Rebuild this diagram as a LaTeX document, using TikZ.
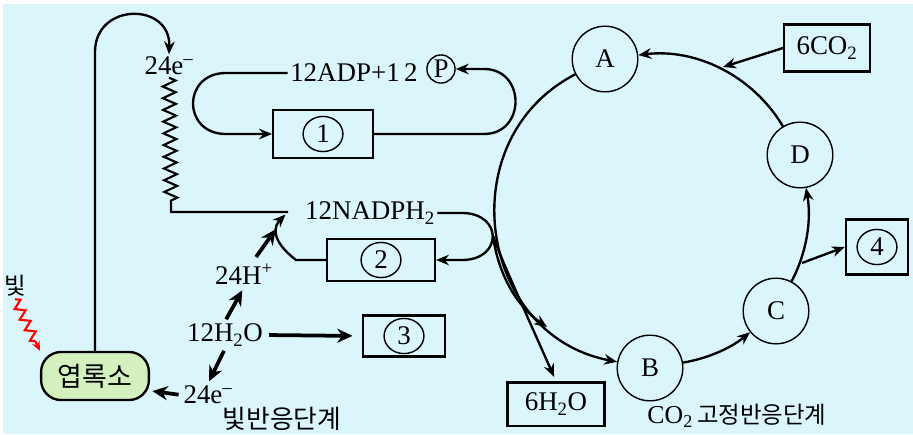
\documentclass[tikz,border=0pt]{standalone}
\usepackage{fontspec}
\setmainfont{Liberation Serif}
\newfontfamily\kr{Noto Sans CJK KR}
\usetikzlibrary{arrows.meta,decorations.pathmorphing,shapes.geometric}

\definecolor{bgcyan}{RGB}{219,246,250}
\definecolor{leafgreen}{RGB}{211,240,190}
\newcommand\txt{\fontsize{23}{26}\selectfont}
\newcommand\krtxt[1]{\fontsize{#1}{#1}\kr\selectfont}

\tikzset{
  every node/.style={font=\txt,inner sep=2pt},
  stage/.style={circle,draw,line width=1.2pt,fill=bgcyan,minimum size=56pt,inner sep=0pt},
  box/.style={draw,line width=2pt,inner sep=0pt},
  num/.style={ellipse,draw,line width=1.2pt,minimum width=34pt,minimum height=30pt,inner sep=0pt},
  flow/.style={line width=2pt,-{Stealth[length=11pt,width=9pt]}},
  bigflow/.style={line width=3.2pt,-{Stealth[length=13pt,width=12pt]}},
  cyc/.style={line width=2pt,-{Stealth[length=11pt,width=9pt]}},
}

\begin{document}
\begin{tikzpicture}[x=0.03cm,y=-0.03cm]
  \useasboundingbox (0,0) rectangle (913,434);
  \fill[bgcyan] (3,4) rectangle (913,434);

  \node[stage] (A) at (605,59) {A};
  \node[stage] (B) at (650,368) {B};
  \node[stage] (C) at (776,311) {C};
  \node[stage] (D) at (800,155) {D};
  \draw[cyc] (A) to[bend right=71,looseness=1.25] (B);
  \draw[cyc] (B) to[bend right=15,looseness=0.87] (C);
  \draw[cyc] (C) to[bend right=19,looseness=0.88] (D);
  \draw[cyc] (D) to[bend right=33,looseness=0.93] (A);

  \node[box,minimum width=73pt,minimum height=40pt] (co2) at (827,48) {6CO\textsubscript{2}};
  \coordinate (co2in) at (723,67);
  \draw[flow] (co2.west) -- (co2in);
  \node[box,minimum width=53pt,minimum height=47pt] (b4) at (877,247) {};
  \node[num] (n4) at (b4) {4};
  \coordinate (fork) at (802,263);
  \draw[flow] (fork) -- (b4.west);

  \node[box,minimum width=85pt,minimum height=41pt] (b1) at (323,134) {};
  \node[num] (n1) at (b1) {1};
  \node (adp) at (354,73) {12ADP+1\,2};
  \node[circle,draw,line width=1.2pt,minimum size=24pt,inner sep=0pt] (pc) at (441,69) {P};
  \draw[flow] (adp.west) -- (226,73) .. controls (182,73) and (182,134) .. (226,134) -- (b1.west);
  \draw[flow] (b1.east) -- (484,134) .. controls (526,134) and (526,69) .. (484,69) -- (pc.east);

  \node (nadph) at (370,213) {12NADPH\textsubscript{2}};
  \node[box,minimum width=92pt,minimum height=36pt] (b2) at (381,260) {};
  \node[num] (n2) at (b2) {2};
  \draw[flow] (nadph.east) -- (462,213) .. controls (503,213) and (503,260) .. (462,260) -- (b2.east);
  \coordinate (turn) at (493,236);
  \coordinate (nadin) at (547,327);
  \draw[flow] (turn) .. controls (498,272) and (515,305) .. (nadin);
  \node[box,minimum width=83pt,minimum height=37pt] (h2o) at (556,404) {6H\textsubscript{2}O};
  \draw[flow,shorten >=4pt] (turn) .. controls (503,262) .. (h2o.north);

  \coordinate (meet) at (288,212);
  \node (e24top) at (169,66) {24e\textsuperscript{--}};
  \coordinate (zz) at (171,206);
  \draw[line width=1.8pt] (e24top.south) decorate[decoration={zigzag,amplitude=5.5pt,segment length=10pt}] {-- (zz)} -- (zz |- meet) -- (meet);
  \draw[flow,shorten >=3pt] (b2.west) -- (296,260) .. controls (270,240) and (274,226) .. (meet);

  \node (hplus) at (244,274) {24H\textsuperscript{+}};
  \node (water) at (225,335) {12H\textsubscript{2}O};
  \node[box,minimum width=70pt,minimum height=35pt] (b3) at (404,336) {};
  \node[num] (n3) at (b3) {3};
  \node (e24bot) at (208,395) {24e\textsuperscript{--}};
  \node[draw,line width=2pt,rounded corners=17pt,fill=leafgreen,minimum width=92pt,minimum height=41pt,font=\krtxt{23}] (leaf) at (95,376) {엽록소};
  \draw[bigflow,shorten <=2pt,shorten >=3pt] (water.north) -- (hplus.south);
  \draw[bigflow,shorten <=4pt,shorten >=18pt] (hplus) -- (meet);
  \draw[bigflow,shorten <=3pt,shorten >=8pt] (water.east) -- (b3.west);
  \draw[bigflow,shorten <=2pt,shorten >=2pt] (water.south) -- (e24bot.north);
  \draw[bigflow,shorten <=2pt,shorten >=2pt] (e24bot.west) -- (leaf.-15);
  \draw[flow] (leaf.north) -- (95,52) .. controls (95,2) and (171,2) .. (e24top.north);

  \node[font=\krtxt{20}] (light) at (15,286) {빛};
  \draw[red,line width=1.8pt,-{Stealth[length=8pt,width=7pt]},decorate,decoration={zigzag,amplitude=4pt,segment length=10pt,post length=8pt}] (light.south) -- (leaf.north west);

  \node[font=\krtxt{22}] (phase1) at (282,419) {빛반응단계};
  \node (phase2) at (737,416) {\fontsize{22}{24}\selectfont CO\textsubscript{2}\,{\krtxt{20}고정반응단계}};
\end{tikzpicture}
\end{document}
